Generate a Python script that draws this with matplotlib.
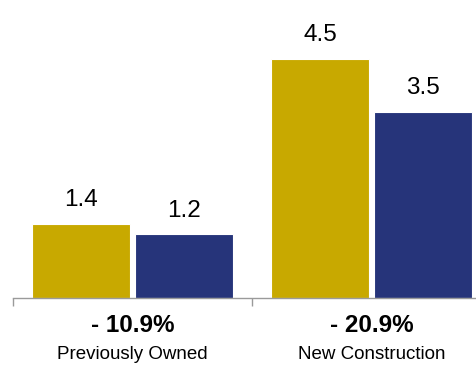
import matplotlib

matplotlib.use("Agg")
import matplotlib.pyplot as plt

plt.rcParams["font.family"] = ["Liberation Sans", "DejaVu Sans"]

categories = ["Previously Owned", "New Construction"]
changes = ["- 10.9%", "- 20.9%"]
before = [1.4, 4.5]
after = [1.2, 3.5]

GOLD = "#C8A900"
NAVY = "#26347A"

fig = plt.figure(figsize=(4.76, 3.67), dpi=100)
ax = fig.add_axes([13 / 476, 69 / 367, 463 / 476, 298 / 367])

x = list(range(len(categories)))
offset = 0.215
width = 0.41
b1 = ax.bar([i - offset for i in x], before, width=width, color=GOLD,
            edgecolor="white", linewidth=0.8)
b2 = ax.bar([i + offset for i in x], after, width=width, color=NAVY,
            edgecolor="white", linewidth=0.8)

for bars, vals in ((b1, before), (b2, after)):
    for bar, v in zip(bars, vals):
        ax.text(bar.get_x() + bar.get_width() / 2, v + 0.24, f"{v:.1f}",
                ha="center", va="bottom", fontsize=17.5)

for s in ("top", "right", "left"):
    ax.spines[s].set_visible(False)
ax.spines["bottom"].set_color("#9a9a9a")
ax.spines["bottom"].set_linewidth(1.0)
ax.set_yticks([])
ax.set_xticks([-0.5, 0.5, 1.5])
ax.set_xticklabels([])
ax.tick_params(axis="x", length=6, color="#9a9a9a", width=1.0)

# limits after the ticks, otherwise set_xticks widens the view to 1.5
ax.set_xlim(-0.5, -0.5 + 463 / 239)
ax.set_ylim(0, 298 / 53.1)

for i, (cat, chg) in enumerate(zip(categories, changes)):
    ax.text(i, -0.51, chg, ha="center", va="center", fontsize=17.5,
            fontweight="bold")
    ax.text(i, -1.06, cat, ha="center", va="center", fontsize=13.5)

fig.savefig("out.png", dpi=100)
